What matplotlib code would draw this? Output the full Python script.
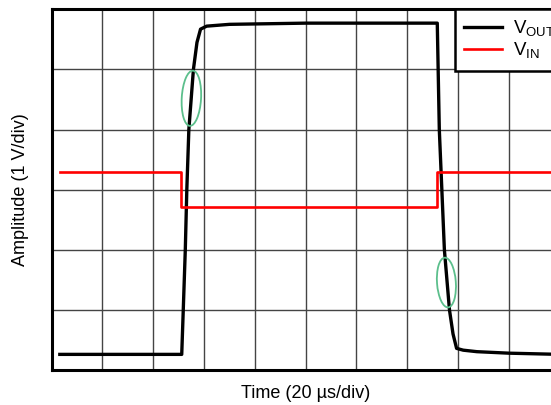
"""Step response scope capture: VOUT and VIN on a 10 x 6 division grid."""

import matplotlib
matplotlib.use("Agg")
import matplotlib.pyplot as plt
from matplotlib.patches import Ellipse

plt.rcParams["font.family"] = ["Liberation Sans", "DejaVu Sans"]

# time in divisions (20 us/div), amplitude in divisions (1 V/div)
vout_t = [0.16, 2.56, 2.59, 2.63, 2.66, 2.70, 2.79, 2.86, 2.93, 3.05, 3.5, 5.0,
          7.59, 7.63, 7.68, 7.73, 7.83, 7.90, 7.97, 8.10, 8.37, 9.0, 10.0]
vout_v = [0.26, 0.26, 1.0, 2.0, 3.0, 4.0, 5.0, 5.45, 5.67, 5.72, 5.75, 5.77,
          5.77, 4.0, 3.0, 2.0, 1.0, 0.6, 0.36, 0.33, 0.305, 0.28, 0.26]

vin_t = [0.16, 2.545, 2.545, 7.58, 7.58, 10.0]
vin_v = [3.29, 3.29, 2.71, 2.71, 3.30, 3.30]

# slew-rate markers: (x, y, width, height, angle)
markers = [(2.75, 4.52, 0.38, 0.92, -4), (7.77, 1.455, 0.37, 0.83, 5)]

fig = plt.figure(figsize=(5.51, 4.05), dpi=100)
ax = fig.add_axes([0.0938, 0.0864, 0.922, 0.8906])

ax.plot(vout_t, vout_v, color="black", lw=2.4, label=r"V$_\mathregular{OUT}$", zorder=3)
ax.plot(vin_t, vin_v, color="#ff0000", lw=1.9, label=r"V$_\mathregular{IN}$", zorder=3)

for x, y, w, h, ang in markers:
    ax.add_patch(Ellipse((x, y), w, h, angle=ang, fill=False,
                         edgecolor="#5cbf8c", lw=1.3, zorder=4))

ax.set_xlim(0, 10)
ax.set_ylim(0, 6)
ax.set_xticks(range(11))
ax.set_yticks(range(7))
ax.tick_params(length=0, labelbottom=False, labelleft=False)
ax.grid(True, color="#444444", lw=1.0)
for s in ax.spines.values():
    s.set_linewidth(2.2)

ax.set_xlabel("Time (20 µs/div)", fontsize=13, labelpad=11)
ax.set_ylabel("Amplitude (1 V/div)", fontsize=13, labelpad=16)

leg = ax.legend(loc="upper left", bbox_to_anchor=(0.794, 1.0), fontsize=13.5,
                frameon=True, fancybox=False, framealpha=1, edgecolor="black",
                borderaxespad=0, handlelength=2.0, handletextpad=0.6,
                labelspacing=0.1, borderpad=0.5)
leg.get_frame().set_linewidth(1.8)

fig.savefig("out.png", dpi=100)
